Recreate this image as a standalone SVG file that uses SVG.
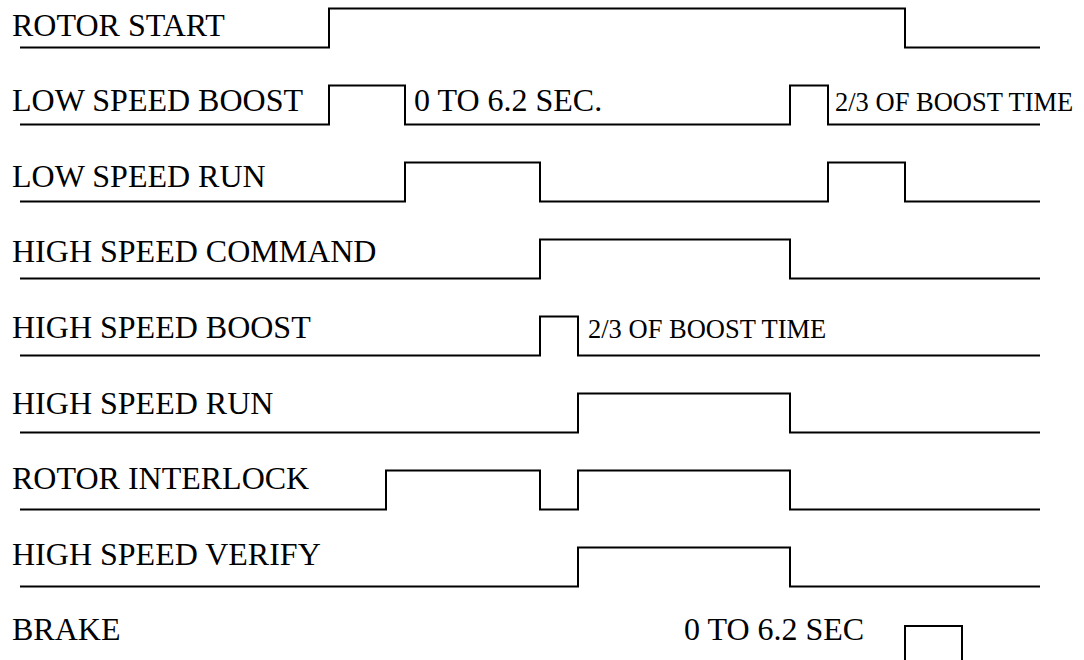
<svg xmlns="http://www.w3.org/2000/svg" width="1084" height="660" viewBox="0 0 1084 660">
<style>
text{font-family:'Liberation Serif','DejaVu Serif',serif;fill:#000}
.lbl{font-size:32px}
.sm{font-size:26.5px}
.sig{fill:none;stroke:#000;stroke-width:2;stroke-linejoin:miter}
</style>
<rect width="1084" height="660" fill="#fff"/>
<g id="rotor-start">
<text class="lbl" x="12" y="35.5">ROTOR START</text>
</g>
<g id="low-speed-boost">
<text class="lbl" x="12" y="111">LOW SPEED BOOST</text>
<text class="lbl" x="414" y="111">0 TO 6.2 SEC.</text>
<text class="sm" x="835" y="111">2/3 OF BOOST TIME</text>
</g>
<g id="low-speed-run">
<text class="lbl" x="12" y="186.7">LOW SPEED RUN</text>
</g>
<g id="high-speed-command">
<text class="lbl" x="12" y="262.3">HIGH SPEED COMMAND</text>
</g>
<g id="high-speed-boost">
<text class="lbl" x="12" y="337.9">HIGH SPEED BOOST</text>
<text class="sm" x="588" y="337.9">2/3 OF BOOST TIME</text>
</g>
<g id="high-speed-run">
<text class="lbl" x="12" y="413.5">HIGH SPEED RUN</text>
</g>
<g id="rotor-interlock">
<text class="lbl" x="12" y="489.1">ROTOR INTERLOCK</text>
</g>
<g id="high-speed-verify">
<text class="lbl" x="12" y="564.7">HIGH SPEED VERIFY</text>
</g>
<g id="brake">
<text class="lbl" x="12" y="640.3">BRAKE</text>
<text class="lbl" x="684" y="640.3">0 TO 6.2 SEC</text>
</g>
<g id="waveforms">
<path class="sig" d="M20,47.5 H329 V8.5 H905 V47.5 H1040"/>
<path class="sig" d="M20,124.5 H329 V85.5 H405 V124.5 H790 V85.5 H828 V124.5 H1040"/>
<path class="sig" d="M20,201.5 H405 V162.5 H540 V201.5 H828 V162.5 H905 V201.5 H1040"/>
<path class="sig" d="M20,278.5 H540 V239.5 H790 V278.5 H1040"/>
<path class="sig" d="M20,355.5 H540 V316.5 H578 V355.5 H1040"/>
<path class="sig" d="M20,432.5 H578 V393.5 H790 V432.5 H1040"/>
<path class="sig" d="M20,509.5 H386 V470.5 H540 V509.5 H578 V470.5 H790 V509.5 H1040"/>
<path class="sig" d="M20,586.5 H578 V547.5 H790 V586.5 H1040"/>
<path class="sig" d="M905,662 V626 H962 V662"/>
</g>
</svg>
